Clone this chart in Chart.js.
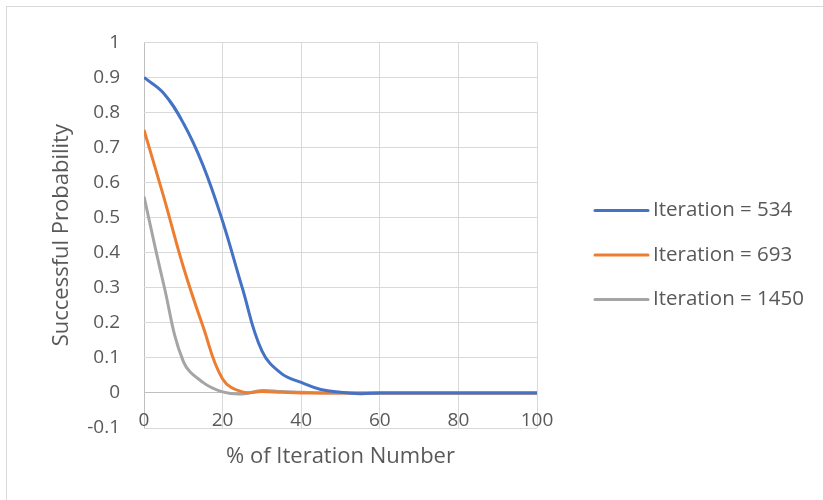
<!DOCTYPE html>
<html>
<head>
<meta charset="utf-8">
<script src="https://cdn.jsdelivr.net/npm/chart.js@4/dist/chart.umd.min.js"></script>
<style>
    body { margin: 0; background: #fff; }
    #wrap { position: absolute; left: 6px; top: 6px; border-left: 1px solid #d9d9d9; border-top: 1px solid #d9d9d9; }
    canvas { display: block; }
</style>
</head>
<body>
<div id="wrap"><canvas id="probChart" width="817" height="494"></canvas></div>
<script>
// % of iteration number (x)
const percents = [0, 5, 10, 15, 20, 25, 30, 35, 40, 45, 50, 55, 60, 65, 70, 75, 80, 85, 90, 95, 100];
const iter534 = [0.9, 0.855, 0.77, 0.65, 0.49, 0.3, 0.12, 0.055, 0.03, 0.01, 0.002, -0.002, 0, 0, 0, 0, 0, 0, 0, 0, 0];
const iter693 = [0.75, 0.56, 0.36, 0.19, 0.04, 0.003, 0.004, 0.002, 0, 0, 0, 0, 0, 0, 0, 0, 0, 0, 0, 0, 0];
const iter1450 = [0.56, 0.31, 0.09, 0.03, 0.003, -0.003, 0.007, 0.004, 0.002, 0, 0, 0, 0, 0, 0, 0, 0, 0, 0, 0, 0];
const seriesNames = ['Iteration = 534', 'Iteration = 693', 'Iteration = 1450'];
const seriesColors = ['#4472C4', '#ED7D31', '#A5A5A5'];

const textColor = '#595959';
const fontFamily = '"Open Sans", sans-serif';
const tickSize = 19;
const legendSize = 20.5;
const titleSize = 22;

function toPoints(values) {
    return percents.map((p, i) => ({ x: p, y: values[i] }));
}

// legend drawn by hand: the built-in one gets squeezed on the right
const sideLegend = {
    id: 'sideLegend',
    afterDraw(chart) {
        const c = chart.ctx;
        const area = chart.chartArea;
        const sets = chart.data.datasets;
        const gap = 44.5;
        const x0 = area.right + 58;
        let y = chart.height / 2 - gap * (sets.length - 1) / 2 + 1;
        c.save();
        c.font = legendSize + 'px ' + fontFamily;
        c.textBaseline = 'middle';
        c.fillStyle = textColor;
        sets.forEach(ds => {
            c.strokeStyle = ds.borderColor;
            c.lineWidth = 3;
            c.lineCap = 'round';
            c.beginPath();
            c.moveTo(x0, y);
            c.lineTo(x0 + 53, y);
            c.stroke();
            c.fillText(ds.label, x0 + 58, y);
            y += gap;
        });
        c.restore();
    }
};

const ctx = document.getElementById('probChart').getContext('2d');

const datasets = [iter534, iter693, iter1450].map((vals, i) => ({
    label: seriesNames[i],
    data: toPoints(vals),
    borderColor: seriesColors[i],
    backgroundColor: seriesColors[i],
    borderWidth: 3,
    pointRadius: 0,
    tension: 0.4,
    fill: false
}));

new Chart(ctx, {
    type: 'line',
    data: { datasets: datasets },
    plugins: [sideLegend],
    options: {
        responsive: false,
        animation: false,
        layout: { padding: { left: 0, top: 28, bottom: 0, right: 287 } },
        plugins: {
            legend: { display: false },
            tooltip: { enabled: false }
        },
        scales: {
            x: {
                type: 'linear',
                min: 0,
                max: 100,
                ticks: {
                    stepSize: 20,
                    mirror: true,
                    padding: -4,
                    color: textColor,
                    font: { family: fontFamily, size: tickSize }
                },
                grid: {
                    drawTicks: false,
                    color: c => c.tick && c.tick.value === 0 ? '#bfbfbf' : '#d9d9d9'
                },
                border: { display: false },
                title: {
                    display: true,
                    text: '% of Iteration Number',
                    color: textColor,
                    font: { family: fontFamily, size: titleSize },
                    padding: { top: 0, bottom: 31 }
                },
                afterFit: scale => { scale.height = 73; }
            },
            y: {
                min: -0.1,
                max: 1,
                ticks: {
                    stepSize: 0.1,
                    padding: 24,
                    color: textColor,
                    font: { family: fontFamily, size: tickSize },
                    callback: v => String(Math.round(v * 10) / 10)
                },
                grid: {
                    drawTicks: false,
                    color: c => c.tick && Math.abs(c.tick.value) < 1e-9 ? '#bfbfbf' : '#d9d9d9'
                },
                border: { display: false },
                title: {
                    display: true,
                    text: 'Successful Probability',
                    color: textColor,
                    font: { family: fontFamily, size: titleSize },
                    padding: { top: 42, bottom: 0 }
                },
                afterFit: scale => { scale.width = 137; }
            }
        }
    }
});
</script>
</body>
</html>
